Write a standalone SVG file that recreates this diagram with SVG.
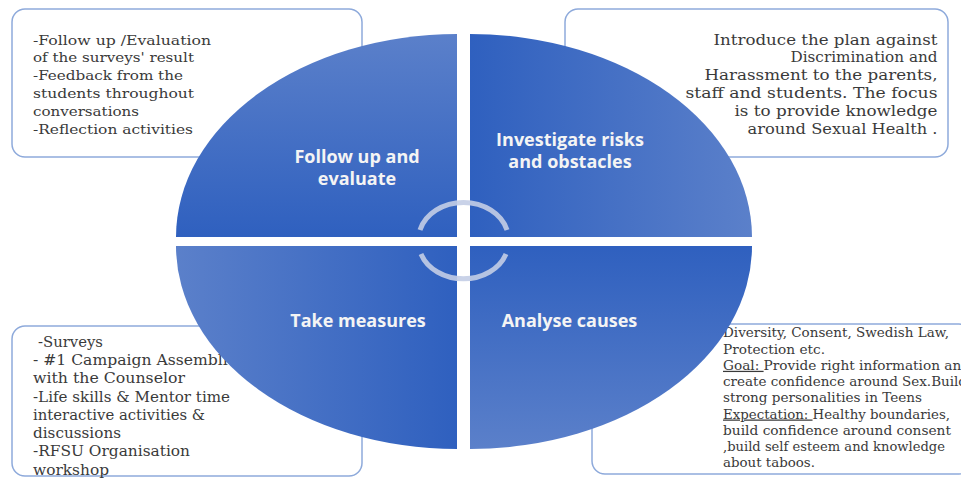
<svg xmlns="http://www.w3.org/2000/svg" width="961" height="480" viewBox="0 0 961 480">
<defs>
<linearGradient id="gTL" x1="0" y1="0" x2="0" y2="1"><stop offset="0" stop-color="#5b80ca"/><stop offset="1" stop-color="#2f60bf"/></linearGradient>
<linearGradient id="gTR" x1="0" y1="0" x2="1" y2="0"><stop offset="0" stop-color="#2f60bf"/><stop offset="1" stop-color="#5b80ca"/></linearGradient>
<linearGradient id="gBR" x1="0" y1="0" x2="0" y2="1"><stop offset="0" stop-color="#2f60bf"/><stop offset="1" stop-color="#5b80ca"/></linearGradient>
<linearGradient id="gBL" x1="0" y1="0" x2="1" y2="0"><stop offset="0" stop-color="#5b80ca"/><stop offset="1" stop-color="#2f60bf"/></linearGradient>
</defs>
<style>
.box{fill:#ffffff;stroke:#8eaadb;stroke-width:1.5}
.t{font-family:"DejaVu Serif","Liberation Serif",serif;fill:#3a3a3a}
.s1{font-size:13.5px}
.s2{font-size:14.5px;text-anchor:end}
.s3{font-size:14px}
.s4{font-size:12.5px}
.u{text-decoration:underline}
.lab{font-family:"Open Sans","Liberation Sans",sans-serif;font-size:18px;font-weight:bold;fill:#f4f4f4;text-anchor:middle}
.arc{fill:none;stroke:#c3cde6;stroke-width:5;opacity:0.9}
</style>
<rect width="961" height="480" fill="#ffffff"/>
<g id="box-tl">
<rect class="box" x="12" y="9" width="350" height="148" rx="13"/>
<g class="t s1">
<text x="33" y="44.5" textLength="178" lengthAdjust="spacingAndGlyphs">-Follow up /Evaluation</text>
<text x="33" y="62.3" textLength="161" lengthAdjust="spacingAndGlyphs">of the surveys' result</text>
<text x="33" y="80.1" textLength="150" lengthAdjust="spacingAndGlyphs">-Feedback from the</text>
<text x="33" y="97.9" textLength="161" lengthAdjust="spacingAndGlyphs">students throughout</text>
<text x="33" y="115.7" textLength="106" lengthAdjust="spacingAndGlyphs">conversations</text>
<text x="33" y="133.5" textLength="160" lengthAdjust="spacingAndGlyphs">-Reflection activities</text>
</g>
</g>
<g id="box-tr">
<rect class="box" x="565" y="9" width="383" height="148" rx="13"/>
<g class="t s2">
<text x="937.5" y="44.5" textLength="224" lengthAdjust="spacingAndGlyphs">Introduce the plan against</text>
<text x="937.5" y="62.3" textLength="147" lengthAdjust="spacingAndGlyphs">Discrimination and</text>
<text x="937.5" y="80.1" textLength="233" lengthAdjust="spacingAndGlyphs">Harassment to the parents,</text>
<text x="937.5" y="97.9" textLength="252" lengthAdjust="spacingAndGlyphs">staff and students. The focus</text>
<text x="937.5" y="115.7" textLength="203" lengthAdjust="spacingAndGlyphs">is to provide knowledge</text>
<text x="937.5" y="133.5" textLength="190" lengthAdjust="spacingAndGlyphs">around Sexual Health .</text>
</g>
</g>
<g id="box-bl">
<rect class="box" x="12" y="326" width="350" height="150" rx="13"/>
<g class="t s3">
<text x="38" y="346.7" textLength="65" lengthAdjust="spacingAndGlyphs">-Surveys</text>
<text x="33" y="365" textLength="212" lengthAdjust="spacingAndGlyphs">- #1 Campaign Assemblies</text>
<text x="33" y="383.3" textLength="152" lengthAdjust="spacingAndGlyphs">with the Counselor</text>
<text x="33" y="401.5" textLength="197" lengthAdjust="spacingAndGlyphs">-Life skills &amp; Mentor time</text>
<text x="33" y="419.8" textLength="172" lengthAdjust="spacingAndGlyphs">interactive activities &amp;</text>
<text x="33" y="438" textLength="88" lengthAdjust="spacingAndGlyphs">discussions</text>
<text x="33" y="456.3" textLength="157" lengthAdjust="spacingAndGlyphs">-RFSU  Organisation</text>
<text x="33" y="474.5" textLength="76" lengthAdjust="spacingAndGlyphs">workshop</text>
</g>
</g>
<g id="box-br">
<rect class="box" x="592" y="324" width="380" height="150" rx="13"/>
<g class="t s4">
<text x="723" y="337.3" textLength="226" lengthAdjust="spacingAndGlyphs">Diversity, Consent, Swedish Law,</text>
<text x="723" y="353.5" textLength="102" lengthAdjust="spacingAndGlyphs">Protection etc.</text>
<text x="723" y="369.8" textLength="247" lengthAdjust="spacingAndGlyphs"><tspan class="u">Goal: </tspan>Provide right information and</text>
<text x="723" y="386" textLength="244" lengthAdjust="spacingAndGlyphs">create confidence around Sex.Build</text>
<text x="723" y="402.3" textLength="199" lengthAdjust="spacingAndGlyphs">strong personalities in Teens</text>
<text x="723" y="418.5" textLength="227" lengthAdjust="spacingAndGlyphs"><tspan class="u">Expectation: </tspan>Healthy boundaries,</text>
<text x="723" y="434.8" textLength="228" lengthAdjust="spacingAndGlyphs">build confidence around consent</text>
<text x="723" y="451" textLength="222" lengthAdjust="spacingAndGlyphs">,build self esteem and knowledge</text>
<text x="723" y="467.3" textLength="92" lengthAdjust="spacingAndGlyphs">about taboos.</text>
</g>
</g>
<g id="node-follow">
<path d="M457 237 L176 237 A281 203 0 0 1 457 34 Z" fill="url(#gTL)"/>
<text class="lab"><tspan x="357" y="162.5">Follow up and</tspan><tspan x="357" y="184.5">evaluate</tspan></text>
</g>
<g id="node-investigate">
<path d="M470 237 L470 34 A282 203 0 0 1 752 237 Z" fill="url(#gTR)"/>
<text class="lab"><tspan x="570" y="146">Investigate risks</tspan><tspan x="570" y="168">and obstacles</tspan></text>
</g>
<g id="node-analyse">
<path d="M470 246 L752 246 A282 203 0 0 1 470 449 Z" fill="url(#gBR)"/>
<text class="lab"><tspan x="569.5" y="327">Analyse causes</tspan></text>
</g>
<g id="node-measures">
<path d="M457 246 L457 449 A281 203 0 0 1 176 246 Z" fill="url(#gBL)"/>
<text class="lab"><tspan x="358" y="327">Take measures</tspan></text>
</g>
<g id="connectors">
<path class="arc" d="M420 230 A45 37 0 0 1 507 230"/>
<path class="arc" d="M421 254 A45 37 0 0 0 506 254"/>
</g>
</svg>
